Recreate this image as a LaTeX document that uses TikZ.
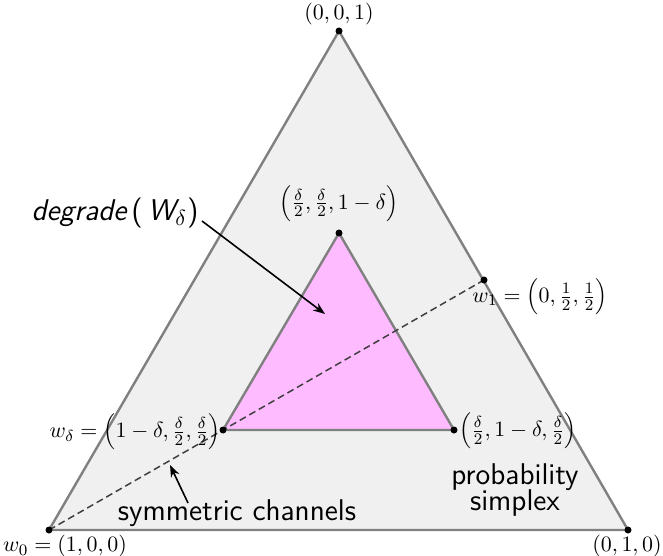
\documentclass[tikz,border=0pt]{standalone}
\usetikzlibrary{arrows.meta}
\definecolor{simplexfill}{HTML}{F0F0F0}
\definecolor{edgegray}{HTML}{808080}
\definecolor{pinkfill}{HTML}{FFBBFF}
\definecolor{dashgray}{HTML}{404040}
\begin{document}
\begin{tikzpicture}[x=0.5pt,y=-0.5pt,
  dot/.style={circle,fill=black,inner sep=0pt,minimum size=3.5pt},
  mlabel/.style={font=\fontsize{11}{13}\selectfont,inner sep=1pt},
  slabel/.style={font=\fontsize{15}{16}\selectfont\sffamily,align=center,inner sep=1pt},
  edge/.style={draw=edgegray,line width=1.2pt,line join=round},
  pointer/.style={-{Stealth[length=6pt,width=4.5pt]},line width=0.8pt}]
\useasboundingbox (0,0) rectangle (663,556);
% outer simplex
\coordinate (A) at (49,530);
\coordinate (B) at (628,530);
\coordinate (C) at (339,31);
% inner triangle
\coordinate (D) at (223,430);
\coordinate (E) at (454,430);
\coordinate (F) at (339,233);
\coordinate (W1) at (484,280);
\fill[simplexfill] (A) -- (B) -- (C) -- cycle;
\path[edge] (A) -- (B) -- (C) -- cycle;
\fill[pinkfill] (D) -- (E) -- (F) -- cycle;
\path[edge] (D) -- (E) -- (F) -- cycle;
\draw[dashgray,line width=0.75pt,dash pattern=on 3.5pt off 2pt] (A) -- (W1);
\foreach \p in {A,B,C,D,E,F,W1} \node[dot] (dot\p) at (\p) {};
% labels
\node[mlabel,anchor=south] (lC) at (339,27) {$(0,0,1)$};
\node[mlabel,anchor=south] (lF) at (339,224) {$\left(\frac{\delta}{2},\frac{\delta}{2},1-\delta\right)$};
\node[mlabel,anchor=west] (lW1) at (470,297) {$w_1=\left(0,\frac{1}{2},\frac{1}{2}\right)$};
\node[mlabel,anchor=east] (lD) at (223,432) {$w_\delta=\left(1-\delta,\frac{\delta}{2},\frac{\delta}{2}\right)$};
\node[mlabel,anchor=west] (lE) at (457,431) {$\left(\frac{\delta}{2},1-\delta,\frac{\delta}{2}\right)$};
\node[mlabel,anchor=north] (lB) at (627,533) {$(0,1,0)$};
\node[mlabel,anchor=north] (lA) at (65,533) {$w_0=(1,0,0)$};
\node[slabel] (simplex) at (515,490) {probability\\[-3pt]simplex};
\node[slabel] (sym) at (237,513) {symmetric channels};
\node[slabel] (deg) at (115,213) {{\itshape degrade}\,(\,{\itshape W}$_\delta$)};
\coordinate (symtail) at (188,503);
\coordinate (symhead) at (170,465);
\coordinate (degtail) at (202,221);
\coordinate (deghead) at (325,314);
\draw[pointer] (symtail) -- (symhead);
\draw[pointer] (degtail) -- (deghead);
\end{tikzpicture}
\end{document}
